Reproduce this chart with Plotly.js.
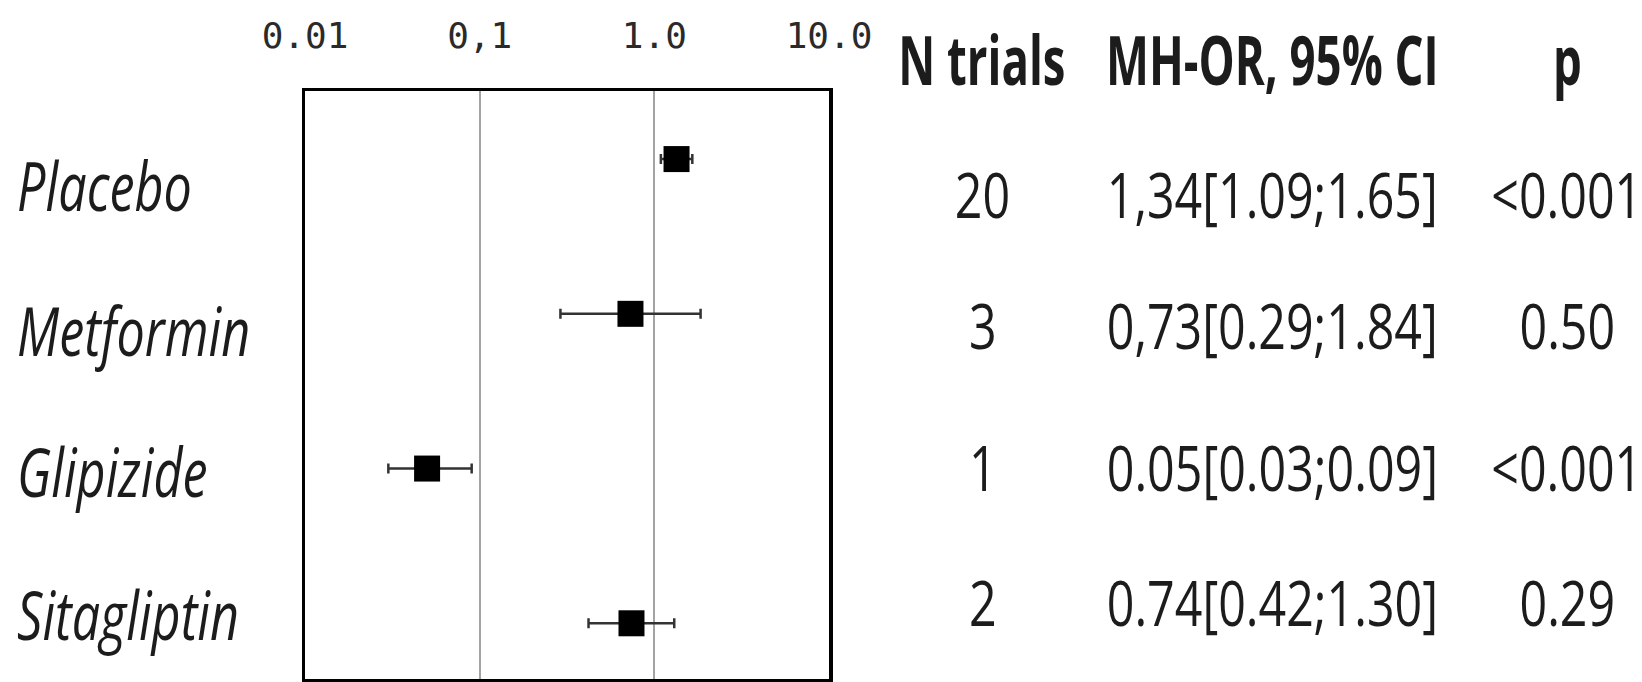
<!DOCTYPE html>
<html>
<head>
<meta charset="utf-8">
<script src="https://cdn.plot.ly/plotly-3.0.1.min.js"></script>
<style>
  html, body { margin: 0; padding: 0; background: #ffffff; }
  #chart { width: 1642px; height: 682px; }
</style>
</head>
<body>
<div id="chart"></div>
<script>
// ---- data ----
const drugs      = ['Placebo', 'Metformin', 'Glipizide', 'Sitagliptin'];
const nTrials    = [20, 3, 1, 2];
const orValues   = [1.34, 0.73, 0.05, 0.74];
const ciLow      = [1.09, 0.29, 0.03, 0.42];
const ciHigh     = [1.65, 1.84, 0.09, 1.30];
const orLabels   = ['1,34[1.09;1.65]', '0,73[0.29;1.84]', '0.05[0.03;0.09]', '0.74[0.42;1.30]'];
const pLabels    = ['<0.001', '0.50', '<0.001', '0.29'];
const tickValues = [0.01, 0.1, 1, 10];
const tickLabels = ['0.01', '0,1', '1.0', '10.0'];
const headers    = ['N trials', 'MH-OR, 95% CI', 'p'];

// ---- layout geometry (pixels) ----
const W = 1642, H = 682;
const plotL = 305, plotR = 829, plotT = 91, plotB = 679;
const px = x => (x - plotL) / (plotR - plotL);
const py = y => (plotB - y) / (plotB - plotT);
const leftLabelX = 15;
const leftRowY  = [184, 329, 470, 613];
const rightRowY = [194, 325, 467, 602];
const headerY = 58;
const colX = [982, 1272, 1567];

const sans = '"Open Sans", "Noto Sans", "DejaVu Sans", sans-serif';
const textColor = '#1c1c1c';
const esc = s => s.replace(/&/g, '&amp;').replace(/</g, '&lt;').replace(/>/g, '&gt;');

// text style groups: the reference type is tall and condensed
const styles = {
  label:  { size: 68, squeeze: 0.74, origin: 'left center' },
  value:  { size: 62, squeeze: 0.78, origin: 'center center' },
  header: { size: 68, squeeze: 0.67, origin: 'center center' }
};

const trace = {
  type: 'scatter',
  mode: 'markers',
  x: orValues,
  y: drugs,
  marker: { symbol: 'square', size: 26, color: '#000000' },
  error_x: {
    type: 'data',
    symmetric: false,
    array: orValues.map((v, i) => ciHigh[i] - v),
    arrayminus: orValues.map((v, i) => v - ciLow[i]),
    color: '#333333',
    thickness: 2.5,
    width: 5
  },
  hoverinfo: 'x+y',
  showlegend: false,
  cliponaxis: false
};

const annotations = [];
const annGroups = [];
drugs.forEach((d, i) => {
  annotations.push({
    xref: 'paper', yref: 'paper', x: px(leftLabelX), y: py(leftRowY[i]),
    xanchor: 'left', yanchor: 'middle', showarrow: false,
    text: '<i>' + esc(d) + '</i>',
    font: { family: sans, size: styles.label.size, color: textColor }
  });
  annGroups.push('label');
  const cols = [String(nTrials[i]), orLabels[i], pLabels[i]];
  cols.forEach((t, c) => {
    annotations.push({
      xref: 'paper', yref: 'paper', x: px(colX[c]), y: py(rightRowY[i]),
      xanchor: 'center', yanchor: 'middle', showarrow: false,
      text: esc(t),
      font: { family: sans, size: styles.value.size, color: textColor }
    });
    annGroups.push('value');
  });
});
headers.forEach((h, c) => {
  annotations.push({
    xref: 'paper', yref: 'paper', x: px(colX[c]), y: py(headerY),
    xanchor: 'center', yanchor: 'middle', showarrow: false,
    text: '<b>' + esc(h) + '</b>',
    font: { family: sans, size: styles.header.size, color: textColor }
  });
  annGroups.push('header');
});

const layout = {
  width: W, height: H,
  margin: { l: plotL, r: W - plotR, t: plotT, b: H - plotB, pad: 0 },
  paper_bgcolor: '#ffffff',
  plot_bgcolor: '#ffffff',
  xaxis: {
    type: 'log',
    range: [Math.log10(tickValues[0]), Math.log10(tickValues[tickValues.length - 1])],
    side: 'top',
    tickmode: 'array',
    tickvals: tickValues,
    ticktext: tickLabels,
    ticks: '',
    ticklabelstandoff: 25,
    tickfont: { family: '"DejaVu Sans Mono", "Liberation Mono", monospace', size: 36, color: '#2a2a2a' },
    showgrid: true, gridcolor: '#a3a3a3', gridwidth: 2,
    zeroline: false,
    showline: true, mirror: true, linecolor: '#000000', linewidth: 3.5,
    fixedrange: true
  },
  yaxis: {
    type: 'category',
    categoryorder: 'array',
    categoryarray: drugs,
    range: [3.36, -0.44],
    showticklabels: false,
    ticks: '',
    showgrid: false,
    zeroline: false,
    showline: true, mirror: true, linecolor: '#000000', linewidth: 3.5,
    fixedrange: true
  },
  annotations: annotations,
  showlegend: false
};

Plotly.newPlot('chart', [trace], layout, { displayModeBar: false, staticPlot: true }).then(gd => {
  // condense the annotation type horizontally, like the reference lettering
  gd.querySelectorAll('.annotation').forEach(g => {
    const idx = +g.getAttribute('data-index');
    const st = styles[annGroups[idx]];
    const t = g.querySelector('text');
    if (!st || !t) return;
    t.style.transformBox = 'fill-box';
    t.style.transformOrigin = st.origin;
    t.style.transform = 'scaleX(' + st.squeeze + ')';
  });
});
</script>
</body>
</html>
